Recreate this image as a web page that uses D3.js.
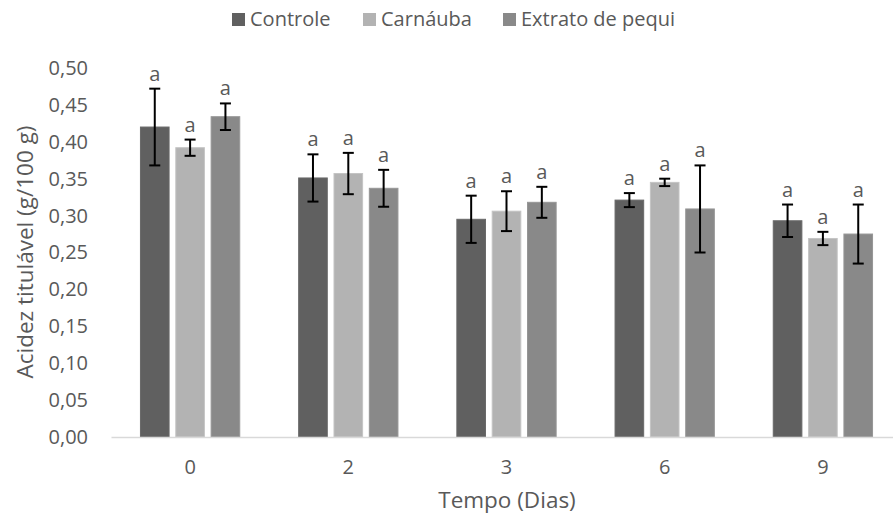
<!DOCTYPE html>
<html>
<head>
<meta charset="utf-8">
<script src="https://cdn.jsdelivr.net/npm/d3@7"></script>
<style>
  body { margin: 0; background: #fff; }
  text { font-family: "Open Sans", sans-serif; fill: #595959; }
</style>
</head>
<body>
<script>
//Data
const dias = ["0", "2", "3", "6", "9"];
const series = ["Controle", "Carnáuba", "Extrato de pequi"];
const controle = [0.420, 0.351, 0.295, 0.321, 0.293];
const carnauba = [0.392, 0.357, 0.306, 0.345, 0.269];
const pequi = [0.434, 0.337, 0.318, 0.309, 0.275];
const errControle = [0.052, 0.032, 0.032, 0.0095, 0.022];
const errCarnauba = [0.011, 0.028, 0.027, 0.005, 0.009];
const errPequi = [0.018, 0.025, 0.021, 0.059, 0.040];
const letras = [
    ["a", "a", "a", "a", "a"],
    ["a", "a", "a", "a", "a"],
    ["a", "a", "a", "a", "a"]
];
const yTicks = [0, 0.05, 0.10, 0.15, 0.20, 0.25, 0.30, 0.35, 0.40, 0.45, 0.50];
const colors = ["#606060", "#b3b3b3", "#898989"];

const width = 893;
const height = 522;
const plotLeft = 111, plotRight = 902, plotTop = 68, plotBottom = 437;

const values = [controle, carnauba, pequi];
const errors = [errControle, errCarnauba, errPequi];

const data = [];
dias.forEach((d, i) => {
    series.forEach((s, j) => {
        data.push({dia: d, serie: s, j: j, v: values[j][i], e: errors[j][i], l: letras[j][i]});
    });
});

//Scales
const x0 = d3.scaleBand().domain(dias).range([plotLeft, plotRight]);
const bw = x0.bandwidth();
const x1 = d3.scaleBand().domain(series)
    .range([bw / 2 - 53, bw / 2 + 53])
    .paddingInner(0.19)
    .paddingOuter(0.095);
const y = d3.scaleLinear().domain([0, 0.5]).range([plotBottom, plotTop]);

const svg = d3.select("body").append("svg")
    .attr("width", width)
    .attr("height", height);

//Axes
const fmt = d => d3.format(".2f")(d).replace(".", ",");
const yAxis = svg.append("g")
    .attr("transform", "translate(" + 100 + ",0)")
    .call(d3.axisLeft(y).tickValues(yTicks).tickFormat(fmt).tickSize(0).tickPadding(12));
yAxis.select(".domain").remove();
yAxis.selectAll("text").style("font-size", "20px").attr("fill", "#595959");

//Bars
svg.selectAll("rect.bar")
    .data(data)
    .enter()
    .append("rect")
    .attr("class", "bar")
    .attr("x", d => x0(d.dia) + x1(d.serie))
    .attr("y", d => y(d.v))
    .attr("width", x1.bandwidth())
    .attr("height", d => y(0) - y(d.v))
    .attr("fill", d => colors[d.j])
    .attr("stroke", d => d3.color(colors[d.j]).brighter(0.25))
    .attr("stroke-width", 1);

const xAxis = svg.append("g")
    .attr("transform", "translate(0," + plotBottom + ")")
    .call(d3.axisBottom(x0).tickSize(0).tickPadding(23));
xAxis.select(".domain").attr("stroke", "#d9d9d9").attr("stroke-width", 1.5);
xAxis.selectAll("text").style("font-size", "20px").attr("fill", "#595959");

//Error bars
const cx = d => x0(d.dia) + x1(d.serie) + x1.bandwidth() / 2;
const eb = svg.append("g").attr("stroke", "#000").attr("stroke-width", 2);
eb.selectAll("line.v").data(data).enter().append("line")
    .attr("x1", cx).attr("x2", cx)
    .attr("y1", d => y(d.v + d.e)).attr("y2", d => y(d.v - d.e));
eb.selectAll("line.t").data(data).enter().append("line")
    .attr("x1", d => cx(d) - 5.5).attr("x2", d => cx(d) + 5.5)
    .attr("y1", d => y(d.v + d.e)).attr("y2", d => y(d.v + d.e));
eb.selectAll("line.b").data(data).enter().append("line")
    .attr("x1", d => cx(d) - 5.5).attr("x2", d => cx(d) + 5.5)
    .attr("y1", d => y(d.v - d.e)).attr("y2", d => y(d.v - d.e));

//Letters
svg.selectAll("text.letra").data(data).enter().append("text")
    .attr("class", "letra")
    .attr("x", cx)
    .attr("y", d => y(d.v + d.e) - 8)
    .attr("text-anchor", "middle")
    .style("font-size", "20px")
    .text(d => d.l);

//Axis titles
svg.append("text")
    .attr("x", 507)
    .attr("y", 508)
    .attr("text-anchor", "middle")
    .style("font-size", "22.5px")
    .text("Tempo (Dias)");

svg.append("text")
    .attr("transform", "translate(33,252) rotate(-90)")
    .attr("text-anchor", "middle")
    .style("font-size", "22.5px")
    .text("Acidez titulável (g/100 g)");

//Legend
const legX = [232, 363, 503];
const leg = svg.selectAll("g.leg").data(series).enter().append("g")
    .attr("class", "leg")
    .attr("transform", (d, i) => "translate(" + legX[i] + ",13)");
leg.append("rect")
    .attr("width", 13).attr("height", 13)
    .attr("fill", (d, i) => colors[i]);
leg.append("text")
    .attr("x", 18).attr("y", 13)
    .style("font-size", "20px")
    .text(d => d);
</script>
</body>
</html>
